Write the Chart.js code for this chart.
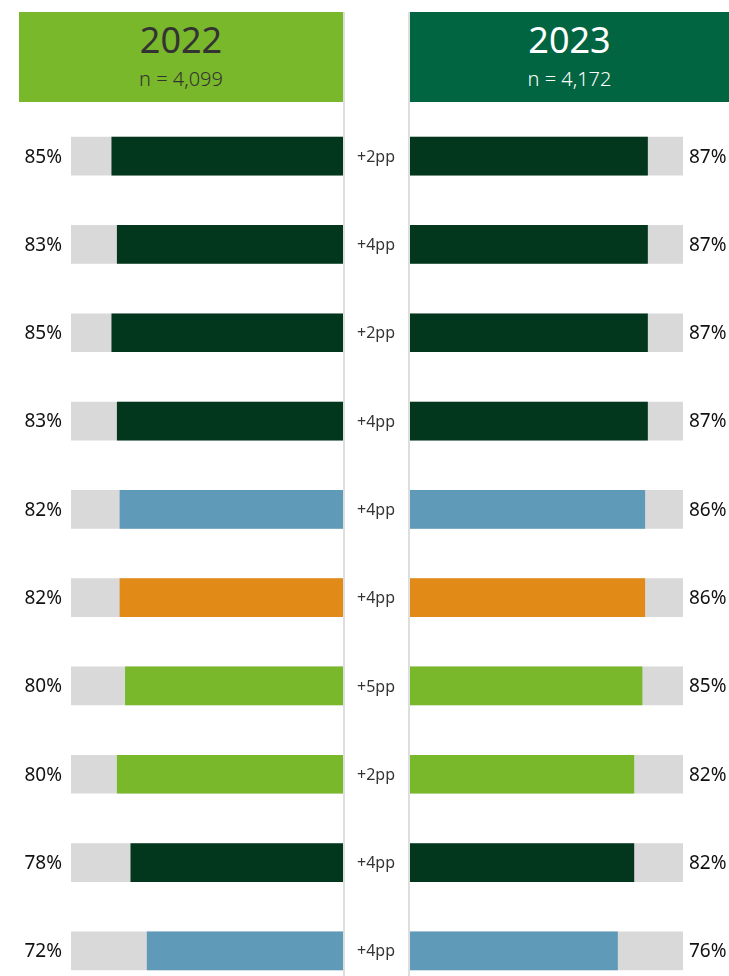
<!DOCTYPE html>
<html>
<head>
<meta charset="utf-8">
<script src="https://cdn.jsdelivr.net/npm/chart.js@4"></script>
<style>
  html, body { margin:0; padding:0; background:#fff; overflow:hidden; width:729px; height:976px; }
  body { position:relative; font-family:"Noto Sans", "Open Sans", sans-serif; }
  .head { position:absolute; top:12px; height:90px; text-align:center; }
  .head .yr { font-size:36px; line-height:36px; margin-top:10px; }
  .head .n { font-size:20px; line-height:22px; margin-top:10px; font-weight:300; }
  .vline { position:absolute; top:12px; bottom:0; width:2px; background:#dedede; }
  canvas { position:absolute; }
</style>
</head>
<body>
<div class="head" style="left:19px;width:324px;background:#79b82a;color:#333;">
  <div class="yr">2022</div><div class="n">n = 4,099</div>
</div>
<div class="head" style="left:410px;width:319px;background:#006540;color:#fff;">
  <div class="yr">2023</div><div class="n">n = 4,172</div>
</div>
<div class="vline" style="left:343px;"></div>
<div class="vline" style="left:408px;"></div>
<div id="wrapL" style="position:absolute;left:0;top:112px;width:409px;height:883px;"><canvas id="chartL"></canvas></div>
<div id="wrapR" style="position:absolute;left:410px;top:112px;width:319px;height:883px;"><canvas id="chartR"></canvas></div>
<script>
const rows = ['1','2','3','4','5','6','7','8','9','10'];
const vals2022 = [85, 83, 85, 83, 82, 82, 80, 83, 78, 72];
const vals2023 = [87, 87, 87, 87, 86, 86, 85, 82, 82, 76];
const labels2022 = ['85%','83%','85%','83%','82%','82%','80%','80%','78%','72%'];
const labels2023 = ['87%','87%','87%','87%','86%','86%','85%','82%','82%','76%'];
const changes = ['+2pp','+4pp','+2pp','+4pp','+4pp','+4pp','+5pp','+2pp','+4pp','+4pp'];
const full = [100,100,100,100,100,100,100,100,100,100];

const DARK = '#02371d', BLUE = '#5f9ab8', ORANGE = '#e28a17', LIME = '#79b82a';
const rowColors = [DARK, DARK, DARK, DARK, BLUE, ORANGE, LIME, LIME, DARK, BLUE];

const FONT = '"Noto Sans", "Open Sans", sans-serif';

// text beside bars, placed from the chart's own scales
function labelPlugin(side) {
  return {
    id: 'labels' + side,
    afterDatasetsDraw(chart) {
      const c = chart.ctx;
      const area = chart.chartArea;
      const meta = chart.getDatasetMeta(0);
      c.save();
      c.textBaseline = 'middle';
      meta.data.forEach((bar, i) => {
        c.font = '19px ' + FONT;
        c.fillStyle = '#111';
        if (side === 'L') {
          c.textAlign = 'right';
          c.fillText(labels2022[i], area.left - 9, bar.y + 1);
          c.font = '16px ' + FONT;
          c.fillStyle = '#333';
          c.textAlign = 'center';
          c.fillText(changes[i], area.right + 33, bar.y + 1);
        } else {
          c.textAlign = 'left';
          c.fillText(labels2023[i], area.right + 6, bar.y + 1);
        }
      });
      c.restore();
    }
  };
}

function makeChart(id, vals, side) {
  return new Chart(document.getElementById(id), {
    type: 'bar',
    data: {
      labels: rows,
      datasets: [
        { data: vals, backgroundColor: rowColors, barThickness: 38, grouped: false, order: 0 },
        { data: full, backgroundColor: '#d9d9d9', barThickness: 38, grouped: false, order: 1 }
      ]
    },
    options: {
      indexAxis: 'y',
      responsive: true,
      maintainAspectRatio: false,
      animation: false,
      layout: { padding: side === 'L' ? { left: 71, right: 66, top: 0, bottom: 0 } : { left: 0, right: 46, top: 0, bottom: 0 } },
      scales: {
        x: { display: false, min: 0, max: 100, reverse: side === 'L' },
        y: { display: false }
      },
      plugins: { legend: { display: false }, tooltip: { enabled: false } }
    },
    plugins: [labelPlugin(side)]
  });
}

makeChart('chartL', vals2022, 'L');
makeChart('chartR', vals2023, 'R');
</script>
</body>
</html>
